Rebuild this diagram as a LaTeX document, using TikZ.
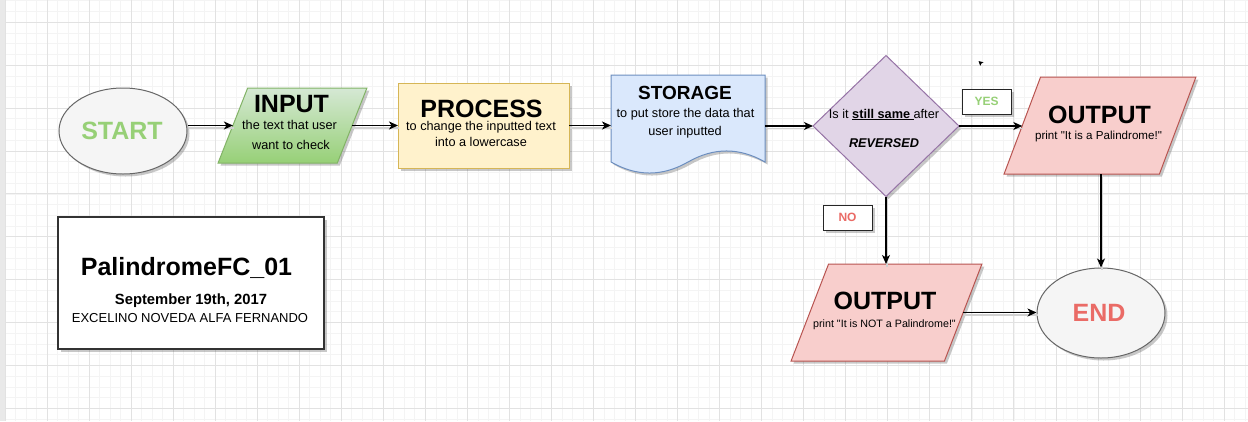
\documentclass[tikz,border=0pt]{standalone}
\usepackage{fontspec}
\setmainfont{Liberation Sans}
\usetikzlibrary{shapes.geometric,shadows,arrows.meta}
\definecolor{gridminor}{HTML}{F4F4F4}
\definecolor{gridmajor}{HTML}{E2E2E2}
\definecolor{stripcol}{HTML}{E9E9E9}
\definecolor{ellfill}{HTML}{F5F5F5}
\definecolor{ellline}{HTML}{666666}
\definecolor{startgreen}{HTML}{97D077}
\definecolor{endred}{HTML}{EA6B66}
\definecolor{intop}{HTML}{D5E8D4}
\definecolor{inbot}{HTML}{97D077}
\definecolor{inline}{HTML}{82B366}
\definecolor{procfill}{HTML}{FFF2CC}
\definecolor{procline}{HTML}{D6B656}
\definecolor{stofill}{HTML}{DAE8FC}
\definecolor{stoline}{HTML}{6C8EBF}
\definecolor{decfill}{HTML}{E1D5E7}
\definecolor{decline}{HTML}{9673A6}
\definecolor{outfill}{HTML}{F8CECC}
\definecolor{outline}{HTML}{B85450}
\newcommand\drawalledges[1]{%
  \draw[#1] (input.left side -| start.east) -- (input.left side);
  \draw[#1] (input.right side) -- (input.right side -| process.west);
  \draw[#1] (process.east) -- (process.east -| stor.west);
  \draw[#1] (dec.west -| stor.east) -- (dec.west);
  \draw[#1] (dec.east) -- (dec.east -| out1.left side);
  \draw[#1] (dec.south) -- (dec.south |- out2.top side);
  \draw[#1] (endn.north |- out1.bottom side) -- (endn.north);
  \draw[#1] (out2.right side) -- (out2.right side -| endn.west);
}
\begin{document}
\begin{tikzpicture}[x=1pt,y=-1pt,
  shdw/.style={drop shadow={shadow xshift=2.5pt,shadow yshift=-2.5pt,opacity=0.3,fill=black!70}},
  edge/.style={line width=1.3pt,-{Stealth[length=9pt,width=8pt,inset=2.5pt]}},
  edgeshadow/.style={line width=1.3pt,draw=black!18},
  txt/.style={anchor=base,inner sep=0pt,font=\fontsize{12.7}{15}\selectfont},
  head/.style={anchor=base,inner sep=0pt,font=\fontsize{25}{30}\selectfont\bfseries},
  para/.style={trapezium,trapezium stretches=true,inner sep=0pt,outer sep=0pt,shdw,line width=1pt},
  lbl/.style={draw=black!85,fill=white,line width=1pt,minimum width=49pt,minimum height=25pt,inner sep=0pt,shdw,font=\fontsize{12}{14}\selectfont\bfseries}
]
\useasboundingbox (0,0) rectangle (1248,421);
% background grid
\fill[white] (0,0) rectangle (1248,421);
\begin{scope}
\clip (5,0) rectangle (1248,421);
\foreach \i [evaluate=\i as \xx using 5+\i*10.51] in {0,...,118}
  \draw[gridminor,line width=0.8pt] (\xx,0) -- (\xx,421);
\foreach \j [evaluate=\j as \yy using 22.3+(\j-3)*10.725] in {0,...,42}
  \draw[gridminor,line width=0.8pt] (0,\yy) -- (1248,\yy);
\foreach \i [evaluate=\i as \xx using 5+\i*42.04] in {0,...,30}
  \draw[gridmajor,line width=1pt] (\xx,0) -- (\xx,421);
\foreach \j [evaluate=\j as \yy using 22.3+(\j-1)*42.9] in {0,...,11}
  \draw[gridmajor,line width=1pt] (0,\yy) -- (1248,\yy);
\end{scope}
\fill[stripcol] (0,0) rectangle (5,421);

% shapes
\node[ellipse,draw=ellline,fill=ellfill,line width=1pt,minimum width=128pt,minimum height=86pt,inner sep=0pt,shdw] (start) at (123,131) {};
\node[para,trapezium left angle=68.2,trapezium right angle=111.8,minimum width=149pt,minimum height=75pt,draw=inline,top color=intop,bottom color=inbot] (input) at (292.5,125.5) {\phantom{M}};
\node[rectangle,draw=procline,fill=procfill,line width=1pt,minimum width=171pt,minimum height=85pt,inner sep=0pt,outer sep=0pt,shdw] (process) at (483.5,125.5) {};
\path[fill=stofill,draw=stoline,line width=1pt,shdw] (611,75) -- (765,75) -- (765,162)
  .. controls (739.3,147.3) and (713.7,147.3) .. (688,162)
  .. controls (662.3,176.7) and (636.7,176.7) .. (611,162) -- cycle;
\node[rectangle,minimum width=154pt,minimum height=87pt,inner sep=0pt,outer sep=0pt] (stor) at (688,118.5) {};
\node[diamond,draw=decline,fill=decfill,line width=1pt,minimum width=146pt,minimum height=141pt,inner sep=0pt,outer sep=0pt,shdw] (dec) at (886,126) {};
\node[para,trapezium left angle=69.6,trapezium right angle=110.4,minimum width=192pt,minimum height=97pt,draw=outline,fill=outfill] (out1) at (1100,125.5) {\phantom{M}};
\node[para,trapezium left angle=68.6,trapezium right angle=111.4,minimum width=191pt,minimum height=97pt,draw=outline,fill=outfill] (out2) at (886.5,312.5) {\phantom{M}};
\node[ellipse,draw=ellline,fill=ellfill,line width=1pt,minimum width=128pt,minimum height=90pt,inner sep=0pt,shdw] (endn) at (1101,313) {};
\node[rectangle,draw=black!80,fill=white,line width=1.5pt,minimum width=266pt,minimum height=132pt,inner sep=0pt,shdw] (title) at (191,283) {};
\node[lbl,text=startgreen] (yes) at (986.5,101.5) {YES};
\node[lbl,text=endred] (no) at (847.5,217.5) {NO};

% connectors
\begin{scope}[transform canvas={xshift=1pt,yshift=-2.5pt}]
\drawalledges{edgeshadow}
\end{scope}
\drawalledges{edge}

% small pointer mark
\fill[black] (978.5,61) -- (983.5,62.3) -- (981.6,63.3) -- (980.2,65.8) -- cycle;

% texts
\node[head,text=startgreen] (tstart) at (122,139) {START};
\node[head] (tinput) at (291.5,112) {INPUT};
\node[txt] (tin1) at (289.5,129.3) {the text that user};
\node[txt] (tin2) at (291,149.3) {want to check};
\node[head] (tproc) at (481.5,117) {PROCESS};
\node[txt] (tpr1) at (481,130) {to change the inputted text};
\node[txt] (tpr2) at (481,146) {into a lowercase};
\node[anchor=base,inner sep=0pt,font=\fontsize{19}{23}\selectfont\bfseries] (tsto) at (685,99) {STORAGE};
\node[txt] (tst1) at (685.5,117) {to put store the data that};
\node[txt] (tst2) at (685,135) {user inputted};
\node[txt] (tdec1) at (884,118) {Is it \underline{\textbf{still same\ }}after};
\node[txt] (tdec2) at (884,147) {\textbf{\textit{REVERSED}}};
\node[head] (tout1) at (1099.5,123) {OUTPUT};
\node[anchor=base,inner sep=0pt,font=\fontsize{11.6}{14}\selectfont] (tout1b) at (1098.5,139) {print \textquotedbl It is a Palindrome!\textquotedbl};
\node[head] (tout2) at (885,309) {OUTPUT};
\node[anchor=base,inner sep=0pt,font=\fontsize{10.7}{13}\selectfont] (tout2b) at (884.5,327) {print \textquotedbl It is NOT a Palindrome!\textquotedbl};
\node[head,text=endred] (tend) at (1099,321) {END};
\node[head] (ttitle) at (186.5,275) {PalindromeFC\_01};
\node[anchor=base,inner sep=0pt,font=\fontsize{14.8}{18}\selectfont\bfseries] (tdate) at (191,304) {September 19th, 2017};
\node[anchor=base,inner sep=0pt,font=\fontsize{13}{16}\selectfont] (tauth) at (190,322) {EXCELINO NOVEDA ALFA FERNANDO};
\end{tikzpicture}
\end{document}
